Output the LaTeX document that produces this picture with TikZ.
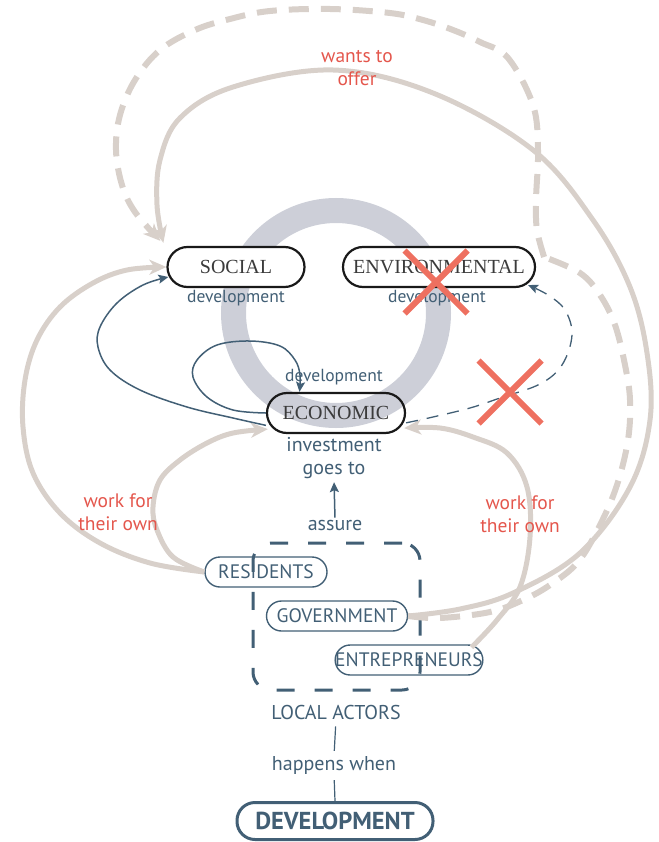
\documentclass[tikz,border=0pt]{standalone}
\usepackage{fontspec}
\setmainfont{Liberation Serif}
\newfontfamily\sansface{PT Sans}
\usetikzlibrary{arrows.meta,calc,shapes.misc}

\definecolor{slate}{RGB}{66,95,117}
\definecolor{sand}{RGB}{216,208,202}
\definecolor{ringgray}{RGB}{205,207,216}
\definecolor{alert}{RGB}{228,86,76}
\definecolor{crossred}{RGB}{238,112,96}
\definecolor{ink}{RGB}{25,25,25}

\tikzset{
  pillbig/.style={draw=ink, line width=2.2pt, rounded corners=20pt, minimum height=40pt,
    inner sep=0pt, font=\fontsize{20}{20}\selectfont, text=ink!85},
  pillsmall/.style={draw=slate, line width=1.4pt, rounded corners=15pt, minimum height=30pt,
    inner sep=0pt, font=\sansface\fontsize{19.5}{19.5}\selectfont, text=slate},
  lbl/.style={font=\sansface\fontsize{17.5}{17.5}\selectfont, text=slate, inner sep=0pt},
  biglbl/.style={font=\sansface\fontsize{20}{23.5}\selectfont, text=slate, inner sep=0pt, align=center},
  redlbl/.style={font=\sansface\fontsize{19.5}{23.5}\selectfont, text=alert, align=center, inner sep=0pt},
  sandline/.style={draw=sand, line width=5pt},
  sanddash/.style={draw=sand, line width=6pt, dash pattern=on 20pt off 12pt},
  sandtip/.style={-{Stealth[length=17pt,width=15pt,inset=5pt]}},
  slateline/.style={draw=slate, line width=1.5pt},
  slatetip/.style={-{Stealth[length=10pt,width=9pt,inset=2pt]}},
  crossmark/.style={cross out, draw=crossred, line width=6pt, minimum size=57pt, inner sep=0pt},
}

\begin{document}
\begin{tikzpicture}[x=1pt,y=-1pt]
\useasboundingbox (0,0) rectangle (658,842);

% the grey ring behind the three pillars
\draw[ringgray, line width=25pt] (336,313) circle[radius=102.5pt];

% pillars of development
\node[pillbig, fill=white, minimum width=137pt] (social) at (236,267) {SOCIAL};
\node[pillbig, fill=white, minimum width=192pt] (env) at (439,267) {ENVIRONMENTAL};
\node[pillbig, minimum width=138pt] (econ) at (336,413) {ECONOMIC};

\node[lbl] (socdev) at (236,298) {development};
\node[lbl] (envdev) at (437,298) {development};
\node[lbl] (econdev) at (334,377) {development};
\node[biglbl] (invest) at (334,458) {investment\\goes to};
\node[biglbl] (assure) at (335,525) {assure};

% local actors
\node[pillsmall, minimum width=122pt] (res) at (266,572) {RESIDENTS};
\node[pillsmall, minimum width=141pt] (gov) at (337,616) {GOVERNMENT};
\node[pillsmall, minimum width=147pt] (ent) at (409,660) {ENTREPRENEURS};
\node[draw=slate, line width=3pt, dash pattern=on 18pt off 20pt, rounded corners=18pt,
      minimum width=167pt, minimum height=147pt] (actors) at (336.5,616.5) {};

\node[biglbl] (local) at (336,712) {LOCAL ACTORS};
\node[biglbl] (when) at (334,765) {happens when};
\node[draw=slate, line width=3pt, rounded corners=18pt, minimum width=196pt, minimum height=37pt,
      inner sep=0pt, font=\sansface\bfseries\fontsize{24.5}{24.5}\selectfont, text=slate] (dev) at (335,821) {DEVELOPMENT};

\draw[slate, line width=1.2pt, shorten <=7pt, shorten >=5pt] (local.south) -- (when.north);
\draw[slate, line width=1.2pt, shorten <=6pt] (when.south) -- (dev.north);
\draw[slateline, slatetip, shorten <=2pt, shorten >=3pt] (assure.north) -- (invest.south);

% sand connectors
\draw[sandline, sandtip] plot[smooth, tension=0.6] coordinates {(res.west) (150,563) (100,543) (60,513) (33,473) (23,427) (25,380) (37,340) (60,307) (93,283) (127,270) (social.west)};
\draw[sandline, sandtip] plot[smooth, tension=0.6] coordinates {(res.west) (173,557) (157,530) (153,507) (160,480) (180,460) (207,443) (233,433) ($(econ.south west)+(2,-5)$)};
\draw[sandline, sandtip] plot[smooth, tension=0.6] coordinates {($(ent.north east)+(-12,3)$) (497,620) (520,587) (530,537) (527,487) (507,453) (473,437) (440,428) ($(econ.south east)+(-2,-6)$)};
\draw[sandline, sandtip] plot[smooth, tension=0.6] coordinates {(gov.east) (460,609) (513,593) (580,553) (630,487) (650,420) (647,353) (630,287) (593,220) (533,150) (433,93) (333,70) (233,87) (180,118) (160,160) (157,205) ($(social.north west)+(-3,-3)$)};
\draw[sanddash] plot[smooth, tension=0.6] coordinates {(gov.east) (440,618) (490,612) (523,600) (550,585) (578,562) (600,525) (617,485) (628,440) (630,400) (625,365) (615,325) (600,295) (580,273) ($(env.east)+(8,-10)$)};
\draw[sanddash, sandtip] plot[smooth, tension=0.6] coordinates {($(env.east)+(8,-10)$) (537,230) (536,200) (538,150) (533,105) (508,58) (480,42) (453,30) (423,20) (390,13) (330,9) (270,11) (230,19) (195,30) (160,50) (135,80) (120,115) (116,150) (122,185) (135,212) ($(social.north west)+(-6,-5)$)};

% slate connectors
\draw[slateline, slatetip] plot[smooth, tension=0.6] coordinates {(econ.190) (233,418) (187,407) (140,390) (110,370) (98,347) (100,327) (117,303) (143,285) ($(social.west)+(2,10)$)};
\draw[slateline, slatetip] plot[smooth, tension=0.6] coordinates {(econ.west) (233,410) (207,397) (193,377) (197,360) (217,345) (250,341) (280,346) (295,360) (300,375) (econ.150)};
\draw[slateline, line width=1.3pt, dash pattern=on 12pt off 9pt, slatetip] plot[smooth, tension=0.6] coordinates {(econ.352) (433,417) (470,408) (500,398) (540,384) (562,365) (572,335) (565,310) (548,295) ($(env.south east)+(-8,-3)$)};

% labels in red
\node[redlbl] (offer) at (357,68) {wants to\\offer};
\node[redlbl] (workL) at (118,512) {work for\\their own};
\node[redlbl] (workR) at (520,514) {work for\\their own};

% crossed-out links
\node[crossmark] (xenv) at (436,282) {};
\node[crossmark] (xlink) at (510,392) {};
\end{tikzpicture}
\end{document}
